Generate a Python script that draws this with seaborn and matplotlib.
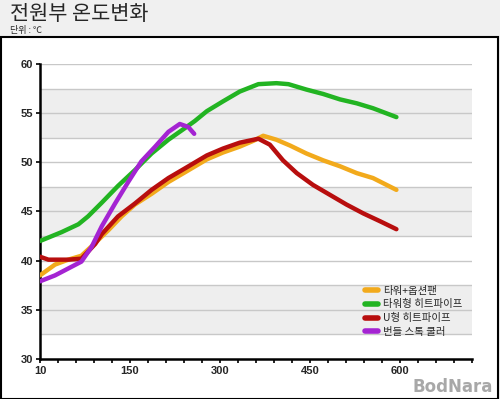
import numpy as np
import pandas as pd
import matplotlib
matplotlib.use("Agg")
import matplotlib.pyplot as plt
import seaborn as sns
from matplotlib.lines import Line2D
from matplotlib.patches import Rectangle
from matplotlib.ticker import MultipleLocator

# 데이터 (초, ℃)
orange_t = [0, 25, 47, 69, 92, 114, 136, 158, 186, 214, 242, 278, 305, 333, 356, 372, 394, 417, 444, 472, 500, 528, 555, 594]
orange_v = [38.5, 39.6, 40.1, 40.5, 41.8, 43.1, 44.5, 45.7, 46.8, 48.0, 49.0, 50.3, 51.0, 51.6, 52.2, 52.7, 52.3, 51.7, 50.9, 50.2, 49.6, 48.9, 48.4, 47.2]

green_t = [0, 36, 64, 80, 103, 130, 158, 186, 214, 242, 258, 278, 305, 333, 364, 394, 414, 444, 472, 500, 528, 555, 594]
green_v = [42.0, 42.9, 43.7, 44.5, 45.9, 47.6, 49.2, 50.9, 52.3, 53.5, 54.2, 55.2, 56.2, 57.2, 57.95, 58.05, 57.95, 57.4, 56.95, 56.4, 56.0, 55.5, 54.6]

red_t = [0, 14, 47, 69, 92, 103, 130, 158, 186, 214, 242, 278, 305, 333, 364, 383, 405, 428, 455, 483, 511, 539, 567, 594]
red_v = [40.4, 40.1, 40.1, 40.2, 41.7, 42.7, 44.5, 45.8, 47.2, 48.4, 49.4, 50.7, 51.4, 52.0, 52.4, 51.8, 50.2, 48.9, 47.7, 46.7, 45.7, 44.8, 44.0, 43.2]

purple_t = [0, 25, 47, 69, 86, 103, 125, 147, 169, 192, 214, 233, 247, 257]
purple_v = [37.9, 38.5, 39.2, 39.9, 41.4, 43.5, 45.8, 48.0, 50.1, 51.6, 53.1, 53.9, 53.6, 52.9]

series_names = ["타워+옵션팬", "타워형 히트파이프", "U형 히트파이프", "번들 스톡 쿨러"]
colors = ["#f2aa1c", "#22b422", "#b80e0e", "#a424d2"]

x_ticks = [0, 150, 300, 450, 600]
x_labels = ["10", "150", "300", "450", "600"]

frames = []
for name, t, v in zip(series_names,
                      [orange_t, green_t, red_t, purple_t],
                      [orange_v, green_v, red_v, purple_v]):
    frames.append(pd.DataFrame({"t": t, "temp": v, "series": name}))
df = pd.concat(frames, ignore_index=True)

sns.set_style("white")
plt.rcParams["font.family"] = ["Noto Sans CJK KR", "DejaVu Sans"]

fig = plt.figure(figsize=(5, 3.99), dpi=100, facecolor="#f0f0f0")
fig.patches.append(Rectangle((0.002, 0.0), 0.994, 0.907, transform=fig.transFigure,
                             facecolor="white", edgecolor="black", linewidth=1.5, zorder=-5))

ax = fig.add_axes([0.08, 0.1003, 0.864, 0.7393])
ax.set_facecolor("none")

# 배경 띠
for lo in [52.5, 42.5, 32.5]:
    ax.axhspan(lo, lo + 5, color="#eeeeee", zorder=0, lw=0)
for g in np.arange(32.5, 60.1, 2.5):
    ax.axhline(g, color="#c8c8c8", lw=1, zorder=1)

sns.lineplot(data=df, x="t", y="temp", hue="series", palette=colors,
             hue_order=series_names, linewidth=3.2, ax=ax, legend=False,
             sort=False, zorder=3)
for line in ax.get_lines()[-4:]:
    line.set_solid_capstyle("round")

ax.set_xlim(0, 720)
ax.set_ylim(30, 60)
ax.set_xticks(x_ticks)
ax.set_xticklabels(x_labels)
ax.xaxis.set_minor_locator(MultipleLocator(30))
ax.set_yticks([30, 35, 40, 45, 50, 55, 60])
ax.set_xlabel("")
ax.set_ylabel("")
for lab in ax.get_xticklabels() + ax.get_yticklabels():
    lab.set_fontweight("bold")
    lab.set_fontsize(8)
    lab.set_family(["Liberation Sans", "DejaVu Sans"])
ax.tick_params(axis="both", which="both", direction="out", length=3, width=1.2,
               color="black", pad=2, bottom=True, left=True)

for s in ["top", "right"]:
    ax.spines[s].set_visible(False)
for s in ["left", "bottom"]:
    ax.spines[s].set_color("black")
    ax.spines[s].set_linewidth(1.8)

handles = [Line2D([0], [0], color=c, lw=4, solid_capstyle="round") for c in colors]
ax.legend(handles, series_names, loc="upper left", bbox_to_anchor=(0.73, 0.28),
          frameon=False, handlelength=1.3, handletextpad=0.5, labelspacing=0.35,
          prop={"size": 7.5})

fig.text(0.02, 0.965, "전원부 온도변화", fontsize=15, va="center", ha="left")
fig.text(0.02, 0.924, "단위 : ℃", fontsize=6.5, va="center", ha="left")
fig.text(0.985, 0.03, "BodNara", fontsize=12, fontweight="bold", color="#a8a8a8",
         ha="right", va="center", family=["DejaVu Sans"])

fig.savefig("out.png", dpi=100, facecolor=fig.get_facecolor())
